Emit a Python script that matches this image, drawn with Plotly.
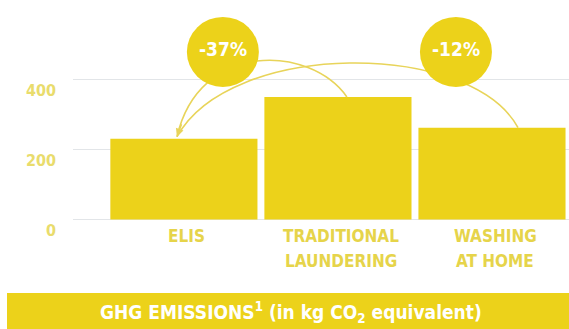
import plotly.graph_objects as go

categories = ["ELIS", "TRADITIONAL\nLAUNDERING", "WASHING\nAT HOME"]
values = [231, 351, 263]
tick_vals = [0, 200, 400]
tick_labels = ["0", "200", "400"]
badges = ["-37%", "-12%"]
footer = "GHG EMISSIONS<sup>1</sup> (in kg CO<sub>2</sub> equivalent)"

BAR = "#ecd21a"
LINE = "#e8d45a"
TXT = "#e6d44a"
TICK = "#e9dc6c"
GRID = "#e2e5e8"
FONT = "DejaVu Sans Condensed, Liberation Sans Narrow, DejaVu Sans, sans-serif"

W, H = 569, 329
L, B = 73, 109
plot_w = W - L
plot_h = H - B
y_top = 628.57
xr = [-0.72, 2.5]

fig = go.Figure()
fig.add_trace(go.Bar(x=list(range(len(values))), y=values, marker=dict(color=BAR, line=dict(width=0)),
                     hoverinfo="skip"))

shapes = []
annotations = []

# baseline grid line at 0
shapes.append(dict(type="line", xref="paper", yref="y", x0=0, x1=1, y0=tick_vals[0], y1=tick_vals[0],
                   line=dict(color=GRID, width=1), layer="below"))

def P(x, y):
    return f"{x},{y}"

tip = (-0.045, values[0] + 6)
a0 = (1.058, values[1])
pathA = f"M {P(*a0)} C {P(0.82, 500)} {P(0.10, 514)} {P(*tip)}"
b0 = (2.169, values[2])
pathB = f"M {P(*b0)} C {P(1.86, 514)} {P(0.30, 514)} {P(*tip)}"
for p in (pathA, pathB):
    shapes.append(dict(type="path", path=p, xref="x", yref="y",
                       line=dict(color=LINE, width=1.6), layer="above"))

annotations.append(dict(x=tip[0], y=tip[1], xref="x", yref="y", ax=5, ay=-14, text="",
                        showarrow=True, arrowhead=2, arrowsize=1.0, arrowwidth=1.6,
                        arrowcolor=LINE))

badge_x = [0.253, 1.766]
badge_y = 480
for bx, t in zip(badge_x, badges):
    shapes.append(dict(type="circle", xref="x", yref="y", xsizemode="pixel", ysizemode="pixel",
                       xanchor=bx, yanchor=badge_y, x0=-36, x1=36, y0=-35, y1=35,
                       fillcolor=BAR, line=dict(width=0), layer="above"))
    annotations.append(dict(x=bx, y=badge_y, xref="x", yref="y", text=t, showarrow=False,
                            yshift=3,
                            font=dict(family=FONT, size=19, color="white", weight="bold")))

for v, t in zip(tick_vals, tick_labels):
    annotations.append(dict(x=0, y=v, xref="paper", yref="y", xanchor="right", xshift=-15,
                            yshift=-11, text=t, showarrow=False,
                            font=dict(family=FONT, size=16, color=TICK, weight="bold")))

for i, c in enumerate(categories):
    for j, line in enumerate(c.split("\n")):
        annotations.append(dict(x=i + 0.02, y=0, xref="x", yref="y", yanchor="middle",
                                yshift=-17 - 25 * j, text=line, showarrow=False,
                                font=dict(family=FONT, size=17, color=TXT, weight="bold")))

shapes.append(dict(type="rect", xref="paper", yref="paper",
                   x0=(7 - L) / plot_w, x1=1.0, y0=-B / plot_h,
                   y1=-(293 - plot_h) / plot_h,
                   fillcolor=BAR, line=dict(width=0), layer="above"))
annotations.append(dict(x=(291 - L) / plot_w, y=-(312 - plot_h) / plot_h, xref="paper", yref="paper",
                        text=footer, showarrow=False, yanchor="middle",
                        font=dict(family=FONT, size=19, color="white", weight="bold")))

fig.update_layout(
    width=W, height=H,
    margin=dict(l=L, r=0, t=0, b=B),
    paper_bgcolor="white", plot_bgcolor="white",
    bargap=0.045,
    showlegend=False,
    shapes=shapes,
    annotations=annotations,
    xaxis=dict(range=xr, showticklabels=False, showgrid=False, zeroline=False, showline=False,
               ticks="", fixedrange=True),
    yaxis=dict(range=[-1.5, y_top], tickvals=tick_vals, showticklabels=False, showgrid=True,
               gridcolor=GRID, gridwidth=1, zeroline=False, showline=False, ticks="",
               fixedrange=True),
)

fig.write_html("out.html")
